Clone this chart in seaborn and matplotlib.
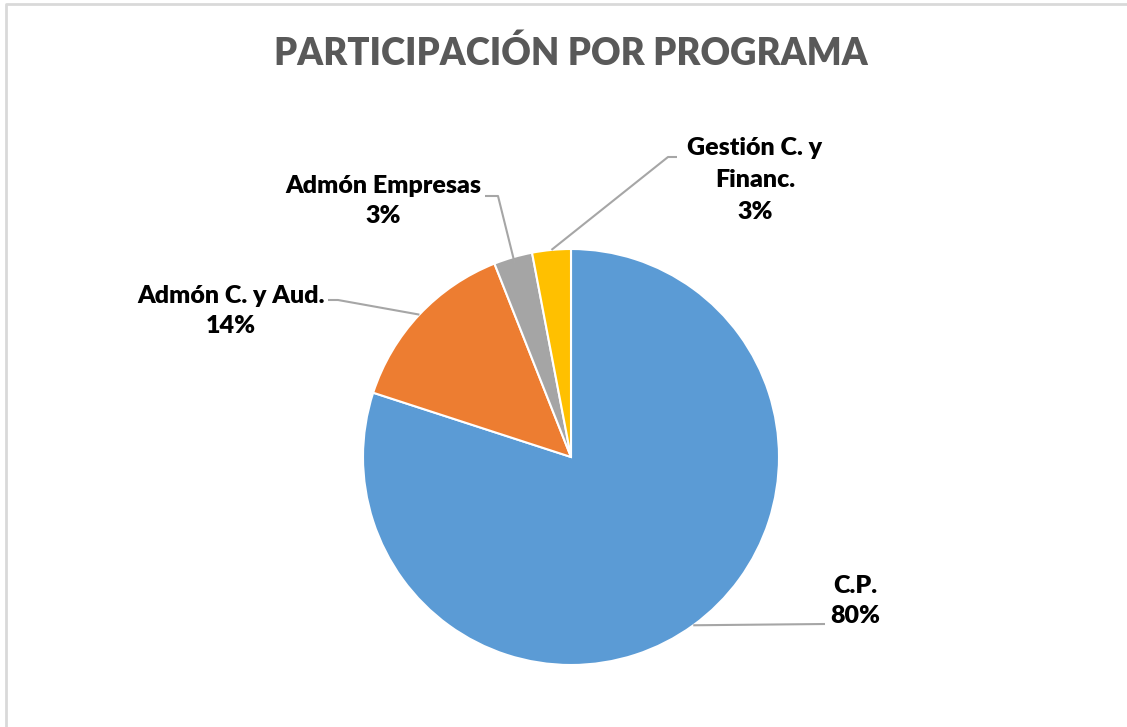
import numpy as np
import matplotlib
matplotlib.use("Agg")
import matplotlib.pyplot as plt
import seaborn as sns

# data
programas = ["C.P.", "Admón C. y Aud.", "Admón Empresas", "Gestión C. y\nFinanc."]
participacion = [80, 14, 3, 3]
colores = ["#5B9BD5", "#ED7D31", "#A5A5A5", "#FFC000"]

W, H = 1127, 727

sns.set_theme(style="white")
plt.rcParams['font.family'] = ['Lato', 'DejaVu Sans']

fig = plt.figure(figsize=(W / 100, H / 100), dpi=100)
ax = fig.add_axes([0, 0, 1, 1])

# pie centre / radius in pixels (y measured from top)
cx, cy, r = 571, 457, 208
wedges, _ = ax.pie(participacion, colors=sns.color_palette(colores), startangle=90,
                   counterclock=False, center=(cx, H - cy), radius=r,
                   wedgeprops=dict(edgecolor="white", linewidth=1.5))
ax.set_xlim(0, W)
ax.set_ylim(0, H)
ax.set_aspect("equal")
ax.axis("off")

# label placement: text centre and leader line points (top-origin pixels)
text_pos = [(855, 601), (231, 311), (383, 201), (755, 180)]
line_sp = [1.45, 1.45, 1.45, 1.55]
leader = [[(825, 624)],
          [(338, 300), (328, 300)],
          [(498, 196), (485, 196)],
          [(668, 157), (677, 157)]]
start_r = [1.0, 1.0, 0.97, 1.0]

for w, prog, val, (tx, ty), ls, pts, sr in zip(wedges, programas, participacion,
                                               text_pos, line_sp, leader, start_r):
    mid = np.deg2rad((w.theta1 + w.theta2) / 2)
    x0 = cx + r * sr * np.cos(mid)
    y0 = (H - cy) + r * sr * np.sin(mid)
    xs = [x0] + [p[0] for p in pts]
    ys = [y0] + [H - p[1] for p in pts]
    ax.plot(xs, ys, color="#A6A6A6", lw=1.5, solid_capstyle="butt")
    ax.text(tx, H - ty, f"{prog}\n{val}%", ha="center", va="center",
            fontsize=18, fontweight="heavy", color="#000000", linespacing=ls)

ax.text(571, H - 53, "PARTICIPACIÓN POR PROGRAMA", ha="center", va="center",
        fontsize=26.3, fontweight="heavy", color="#595959")

# chart frame
ax.plot([6, 6, W], [0, H - 4, H - 4], color="#D9D9D9", lw=2, clip_on=False)

fig.savefig("out.png", dpi=100)
